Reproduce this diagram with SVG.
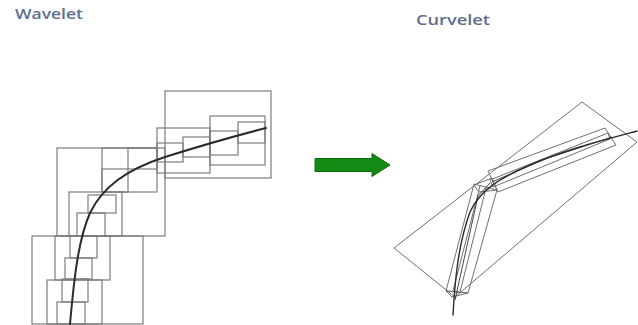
<svg xmlns="http://www.w3.org/2000/svg" width="638" height="325" viewBox="0 0 638 325">
<style>
.t{font-family:"Open Sans","Liberation Sans",sans-serif;font-size:14px;font-weight:600;fill:#5d6d8e}
.b{fill:none;stroke:#7d7d7d;stroke-width:1.2}
.c{fill:none;stroke:#2b2b2b;stroke-width:2;stroke-linecap:round}
.q{fill:none;stroke:#6f6f6f;stroke-width:1}
.a{fill:none;stroke:#444;stroke-width:1}
</style>
<rect width="638" height="325" fill="#fff"/>
<text class="t" x="15" y="19" textLength="68" lengthAdjust="spacingAndGlyphs">Wavelet</text>
<text class="t" x="416" y="25" textLength="74" lengthAdjust="spacingAndGlyphs">Curvelet</text>

<g id="wavelet">
  <rect class="b" x="165" y="91" width="106" height="87"/>
  <rect class="b" x="57" y="148" width="108" height="88"/>
  <rect class="b" x="32" y="236" width="111" height="88"/>
  <rect class="b" x="210" y="116" width="55" height="49"/>
  <rect class="b" x="157" y="128" width="53" height="45"/>
  <rect class="b" x="102" y="148" width="55" height="44"/>
  <rect class="b" x="69" y="192" width="53" height="44"/>
  <rect class="b" x="55" y="236" width="55" height="44"/>
  <rect class="b" x="47" y="280" width="55" height="44"/>
  <rect class="b" x="238" y="122" width="27" height="21"/>
  <rect class="b" x="210" y="131" width="28" height="24"/>
  <rect class="b" x="183" y="137" width="27" height="20"/>
  <rect class="b" x="157" y="143" width="26" height="19"/>
  <rect class="b" x="128" y="148" width="29" height="21"/>
  <rect class="b" x="102" y="169" width="26" height="23"/>
  <rect class="b" x="88" y="195" width="28" height="18"/>
  <rect class="b" x="77" y="213" width="28" height="23"/>
  <rect class="b" x="70" y="236" width="27" height="22"/>
  <rect class="b" x="65" y="258" width="27" height="21"/>
  <rect class="b" x="62" y="279" width="26" height="23"/>
  <rect class="b" x="57" y="302" width="28" height="22"/>
  <path class="c" d="M70,324 C74,280 78,240 90,213 C102,188 125,170 165,157 C200,146 235,136 266,128"/>
</g>

<g id="arrow">
  <polygon points="315,158.5 372,158.5 372,153.5 390,165 372,176.5 372,171.5 315,171.5" fill="#148a14" stroke="#0e6a0e" stroke-width="1"/>
</g>

<g id="curvelet">
  <polygon class="q" points="394,248 582,102 637,142 455,297"/>
  <polygon class="q" points="488,171 605,128 616,145 498,192"/>
  <polygon class="q" points="490,180 608,133 610,139 493,187"/>
  <polygon class="q" points="474,185 492,178 497,190 479,192"/>
  <polygon class="q" points="474,184 497,190 468,293 446,291"/>
  <polyline class="q" points="480,186 453,291"/>
  <polyline class="q" points="486,188 460,292"/>
  <polygon class="q" points="446,291 452,297 468,293"/>
  <polyline class="a" points="455,300 478,196 490,183"/>
  <polyline class="a" points="492,182 545,159 612,137"/>
  <path class="c" style="stroke-width:1.4" d="M453,315 C455,280 458,245 470,212 C480,190 500,178 530,165 C565,150 600,141 637,131"/>
</g>
</svg>
